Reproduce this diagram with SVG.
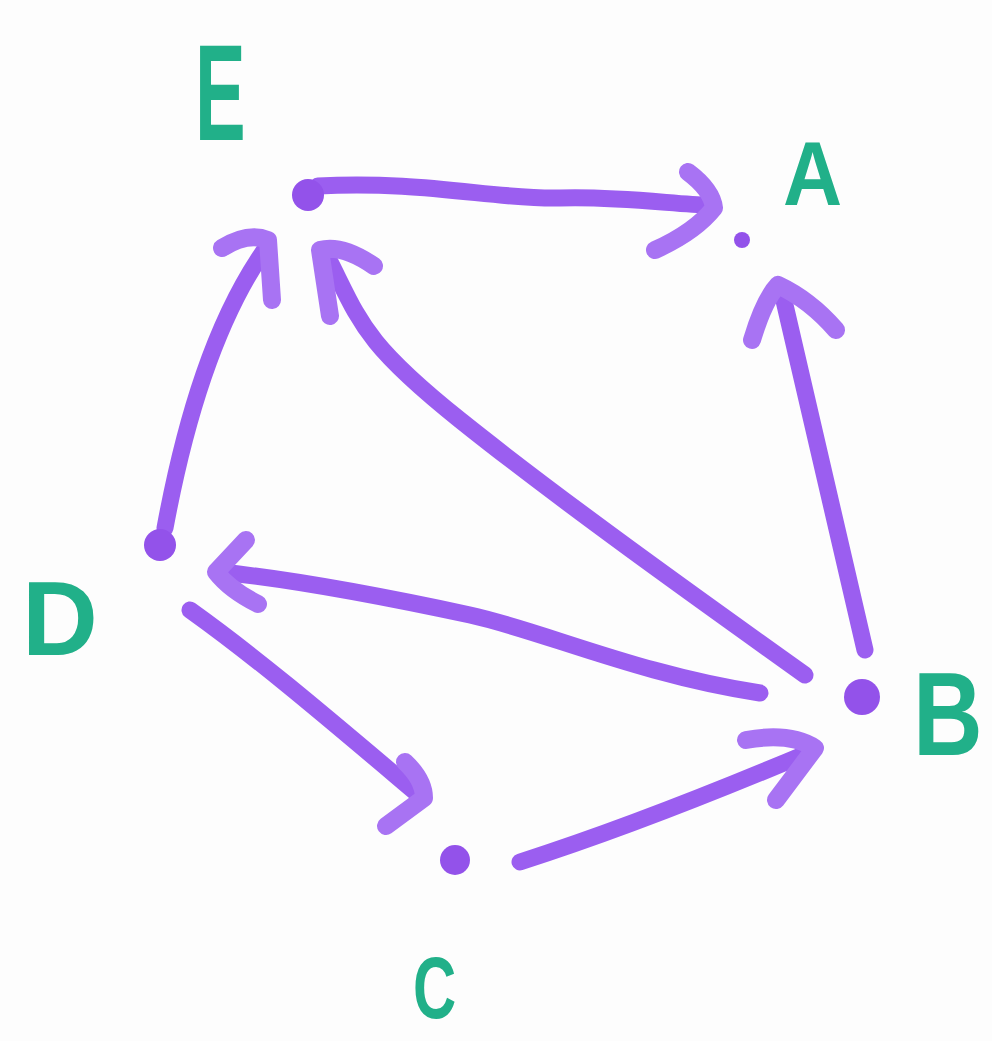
<svg xmlns="http://www.w3.org/2000/svg" width="992" height="1041" viewBox="0 0 992 1041">
<style>
.edge{fill:none;stroke:#9b5ef0;stroke-width:17;stroke-linecap:round;stroke-linejoin:round}
.head{fill:none;stroke:#a873f3;stroke-width:18;stroke-linecap:round;stroke-linejoin:round}
.dot{fill:#9352ea}
.lbl{font-family:"Liberation Sans",Arial,sans-serif;font-weight:bold;fill:#21b089}
</style>
<rect width="992" height="1041" fill="#fdfdfd"/>
<g id="connectors">
<g id="e-a"><path class="edge" d="M318,186 C420,180 500,200 560,198 S680,205 708,205"/><path class="head" d="M688,172 Q712,190 714,208 Q695,232 655,250"/></g>
<g id="d-e"><path class="edge" d="M165,528 C185,420 215,320 266,248"/><path class="head" d="M222,248 Q248,232 268,240 L272,300"/></g>
<g id="b-e"><path class="edge" d="M805,675 C700,600 560,500 460,420 S360,320 326,254"/><path class="head" d="M330,316 L320,250 Q342,244 374,266"/></g>
<g id="b-d"><path class="edge" d="M760,693 C640,675 540,630 470,615 S300,580 220,572"/><path class="head" d="M246,540 L216,572 Q230,590 258,604"/></g>
<g id="b-a"><path class="edge" d="M865,650 L782,292"/><path class="head" d="M752,340 Q764,300 778,285 Q810,300 836,330"/></g>
<g id="d-c"><path class="edge" d="M190,610 C260,660 330,720 420,796"/><path class="head" d="M405,762 Q424,780 424,798 L386,826"/></g>
<g id="c-b"><path class="edge" d="M520,862 C620,830 720,790 810,752"/><path class="head" d="M746,740 Q790,732 815,748 L776,800"/></g>
</g>
<g id="node-E"><circle class="dot" cx="308" cy="195" r="16"/><text class="lbl" font-size="138" transform="translate(195,140) scale(0.55,1)">E</text></g>
<g id="node-A"><circle class="dot" cx="742" cy="240" r="8"/><text class="lbl" font-size="91" transform="translate(783,205) scale(0.9,1)">A</text></g>
<g id="node-B"><circle class="dot" cx="862" cy="697" r="18"/><text class="lbl" font-size="119" transform="translate(913,755) scale(0.81,1)">B</text></g>
<g id="node-C"><circle class="dot" cx="455" cy="860" r="15"/><text class="lbl" font-size="88" transform="translate(413,1018) scale(0.68,1)">C</text></g>
<g id="node-D"><circle class="dot" cx="160" cy="545" r="16"/><text class="lbl" font-size="105" transform="translate(22,655)">D</text></g>
</svg>
